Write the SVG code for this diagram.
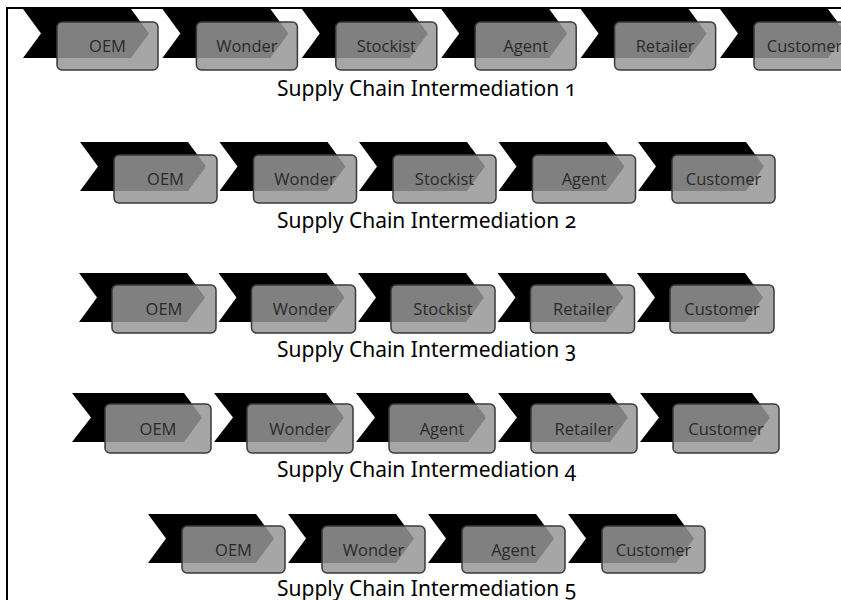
<svg xmlns="http://www.w3.org/2000/svg" xmlns:xlink="http://www.w3.org/1999/xlink" width="841" height="600" viewBox="0 0 841 600">
<style>
.chev{fill:#000}
.box{fill:#979797;fill-opacity:0.85;stroke:#3a3a3a;stroke-width:1.5}
.lbl{font-family:"Open Sans","Noto Sans",sans-serif;font-size:16.5px;fill:#2a2a2a;text-anchor:middle}
.cap{font-family:"Noto Sans","Open Sans",sans-serif;font-size:21px;fill:#000;font-variant-numeric:oldstyle-nums;font-feature-settings:"onum" 1}
</style>
<defs>
<path id="chevA" class="chev" d="M0,0 H108 L126,24.5 L108,49 H0 L18,24.5 Z"/>
<path id="chevB" class="chev" d="M0,0 H112 L130,24.5 L112,49 H0 L19,24.5 Z"/>
</defs>
<rect x="7" y="8" width="900" height="700" fill="none" stroke="#000" stroke-width="2"/>

<!-- Row 1 -->
<g id="r1-oem" transform="translate(23,9)"><use xlink:href="#chevA"/><rect class="box" x="34" y="13" width="101" height="48" rx="5"/><text class="lbl" x="84.5" y="43">OEM</text></g>
<g id="r1-wonder" transform="translate(162.4,9)"><use xlink:href="#chevA"/><rect class="box" x="34" y="13" width="101" height="48" rx="5"/><text class="lbl" x="84.5" y="43">Wonder</text></g>
<g id="r1-stockist" transform="translate(301.8,9)"><use xlink:href="#chevA"/><rect class="box" x="34" y="13" width="101" height="48" rx="5"/><text class="lbl" x="84.5" y="43">Stockist</text></g>
<g id="r1-agent" transform="translate(441.2,9)"><use xlink:href="#chevA"/><rect class="box" x="34" y="13" width="101" height="48" rx="5"/><text class="lbl" x="84.5" y="43">Agent</text></g>
<g id="r1-retailer" transform="translate(580.6,9)"><use xlink:href="#chevA"/><rect class="box" x="34" y="13" width="101" height="48" rx="5"/><text class="lbl" x="84.5" y="43">Retailer</text></g>
<g id="r1-customer" transform="translate(720,9)"><use xlink:href="#chevA"/><rect class="box" x="34" y="13" width="101" height="48" rx="5"/><text class="lbl" x="84.5" y="43">Customer</text></g>
<text class="cap" x="277" y="96">Supply Chain Intermediation 1</text>

<!-- Row 2 -->
<g id="r2-oem" transform="translate(80,142)"><use xlink:href="#chevA"/><rect class="box" x="34" y="13" width="103" height="48" rx="5"/><text class="lbl" x="85.5" y="43">OEM</text></g>
<g id="r2-wonder" transform="translate(219.5,142)"><use xlink:href="#chevA"/><rect class="box" x="34" y="13" width="103" height="48" rx="5"/><text class="lbl" x="85.5" y="43">Wonder</text></g>
<g id="r2-stockist" transform="translate(359,142)"><use xlink:href="#chevA"/><rect class="box" x="34" y="13" width="103" height="48" rx="5"/><text class="lbl" x="85.5" y="43">Stockist</text></g>
<g id="r2-agent" transform="translate(498.5,142)"><use xlink:href="#chevA"/><rect class="box" x="34" y="13" width="103" height="48" rx="5"/><text class="lbl" x="85.5" y="43">Agent</text></g>
<g id="r2-customer" transform="translate(638,142)"><use xlink:href="#chevA"/><rect class="box" x="34" y="13" width="103" height="48" rx="5"/><text class="lbl" x="85.5" y="43">Customer</text></g>
<text class="cap" x="277" y="228">Supply Chain Intermediation 2</text>

<!-- Row 3 -->
<g id="r3-oem" transform="translate(79,273)"><use xlink:href="#chevA"/><rect class="box" x="33" y="12" width="104" height="48" rx="5"/><text class="lbl" x="85" y="42">OEM</text></g>
<g id="r3-wonder" transform="translate(218.5,273)"><use xlink:href="#chevA"/><rect class="box" x="33" y="12" width="104" height="48" rx="5"/><text class="lbl" x="85" y="42">Wonder</text></g>
<g id="r3-stockist" transform="translate(358,273)"><use xlink:href="#chevA"/><rect class="box" x="33" y="12" width="104" height="48" rx="5"/><text class="lbl" x="85" y="42">Stockist</text></g>
<g id="r3-retailer" transform="translate(497.5,273)"><use xlink:href="#chevA"/><rect class="box" x="33" y="12" width="104" height="48" rx="5"/><text class="lbl" x="85" y="42">Retailer</text></g>
<g id="r3-customer" transform="translate(637,273)"><use xlink:href="#chevA"/><rect class="box" x="33" y="12" width="104" height="48" rx="5"/><text class="lbl" x="85" y="42">Customer</text></g>
<text class="cap" x="277" y="357">Supply Chain Intermediation 3</text>

<!-- Row 4 -->
<g id="r4-oem" transform="translate(72,393)"><use xlink:href="#chevB"/><rect class="box" x="33" y="11" width="106" height="49" rx="5"/><text class="lbl" x="86" y="41.5">OEM</text></g>
<g id="r4-wonder" transform="translate(214,393)"><use xlink:href="#chevB"/><rect class="box" x="33" y="11" width="106" height="49" rx="5"/><text class="lbl" x="86" y="41.5">Wonder</text></g>
<g id="r4-agent" transform="translate(356,393)"><use xlink:href="#chevB"/><rect class="box" x="33" y="11" width="106" height="49" rx="5"/><text class="lbl" x="86" y="41.5">Agent</text></g>
<g id="r4-retailer" transform="translate(498,393)"><use xlink:href="#chevB"/><rect class="box" x="33" y="11" width="106" height="49" rx="5"/><text class="lbl" x="86" y="41.5">Retailer</text></g>
<g id="r4-customer" transform="translate(640,393)"><use xlink:href="#chevB"/><rect class="box" x="33" y="11" width="106" height="49" rx="5"/><text class="lbl" x="86" y="41.5">Customer</text></g>
<text class="cap" x="277" y="477">Supply Chain Intermediation 4</text>

<!-- Row 5 -->
<g id="r5-oem" transform="translate(148,514)"><use xlink:href="#chevA"/><rect class="box" x="34" y="12" width="103" height="47" rx="5"/><text class="lbl" x="85.5" y="41.5">OEM</text></g>
<g id="r5-wonder" transform="translate(288,514)"><use xlink:href="#chevA"/><rect class="box" x="34" y="12" width="103" height="47" rx="5"/><text class="lbl" x="85.5" y="41.5">Wonder</text></g>
<g id="r5-agent" transform="translate(428,514)"><use xlink:href="#chevA"/><rect class="box" x="34" y="12" width="103" height="47" rx="5"/><text class="lbl" x="85.5" y="41.5">Agent</text></g>
<g id="r5-customer" transform="translate(568,514)"><use xlink:href="#chevA"/><rect class="box" x="34" y="12" width="103" height="47" rx="5"/><text class="lbl" x="85.5" y="41.5">Customer</text></g>
<text class="cap" x="277" y="596">Supply Chain Intermediation 5</text>

<g id="connectors"/>
</svg>
